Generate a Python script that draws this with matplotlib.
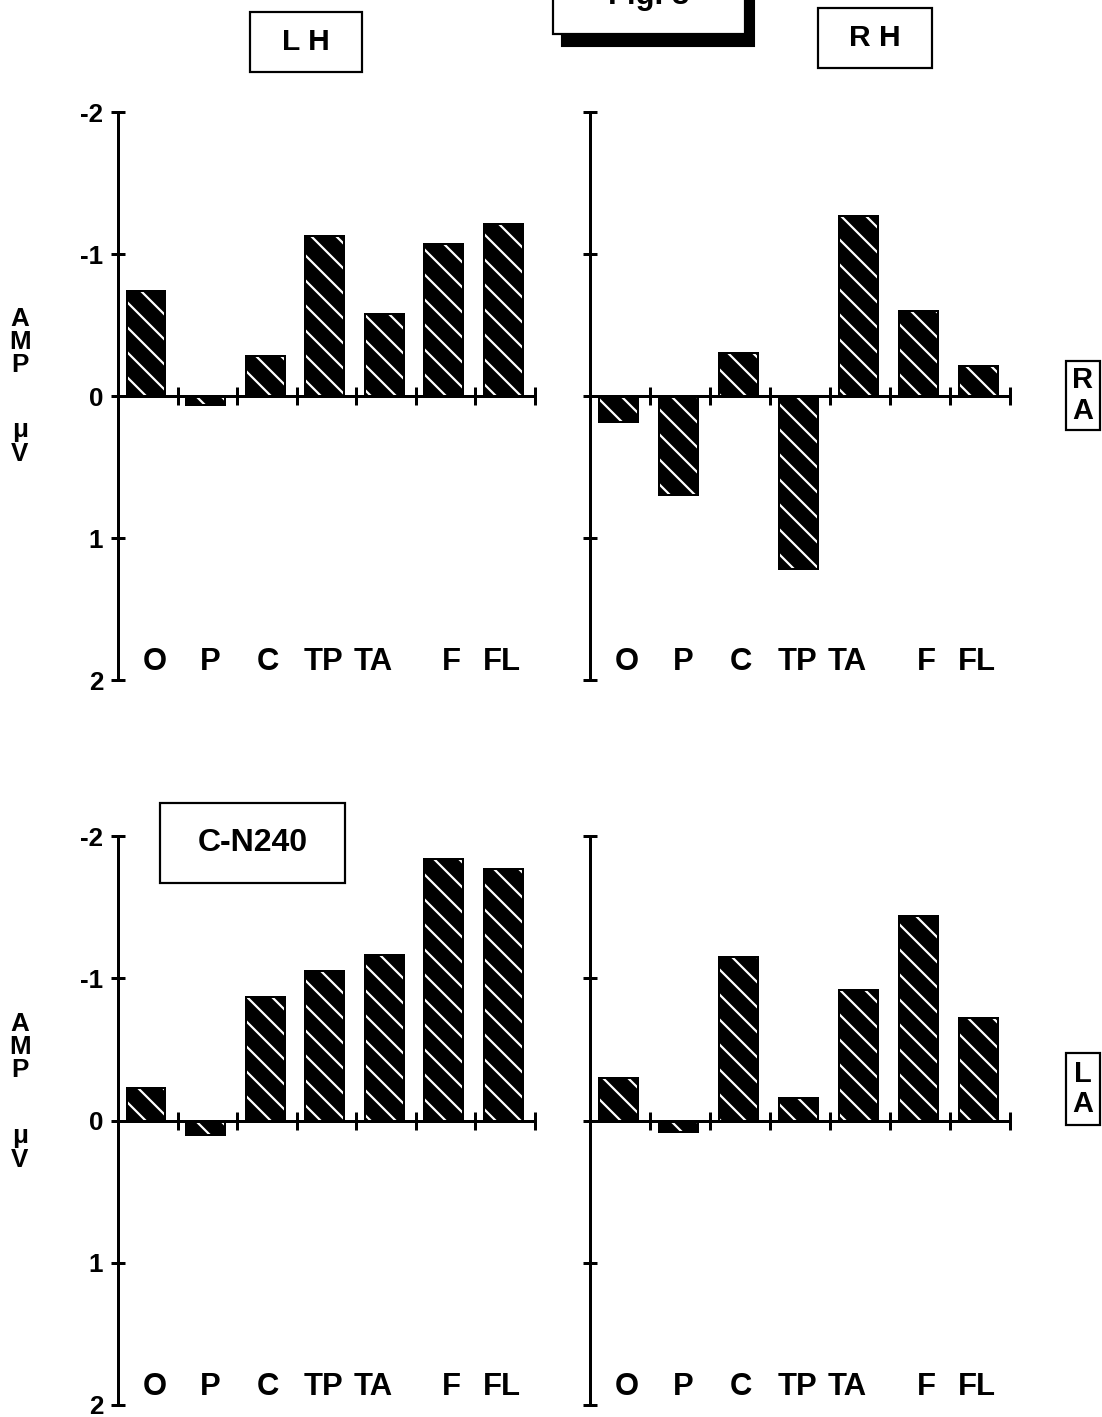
import matplotlib.pyplot as plt
from matplotlib.patches import Rectangle

plt.rcParams['font.family'] = ['Liberation Sans', 'DejaVu Sans']
plt.rcParams['font.weight'] = 'bold'

# electrode sites along the x axis
sites = ["O", "P", "C", "TP", "TA", "F", "FL"]

# mean amplitudes (microvolts, negative plotted upward)
lh_ra = [-0.74, 0.06, -0.28, -1.13, -0.58, -1.07, -1.21]
rh_ra = [0.18, 0.70, -0.30, 1.22, -1.27, -0.60, -0.21]
lh_la = [-0.23, 0.10, -0.87, -1.05, -1.16, -1.84, -1.77]
rh_la = [-0.30, 0.08, -1.15, -0.16, -0.92, -1.44, -0.72]

yticks = [-2, -1, 0, 1, 2]
ytick_labels = ["-2", "-1", "0", "1", "2"]

W, H = 1102, 1417
DPI = 150
S = 72 / DPI  # pixels -> points

plt.rcParams['hatch.linewidth'] = 2.2 * S

fig = plt.figure(figsize=(W / DPI, H / DPI), dpi=DPI)


def px_axes(x0, y0, x1, y1):
    return fig.add_axes([x0 / W, 1 - y1 / H, (x1 - x0) / W, (y1 - y0) / H])


def panel(ax, vals, show_labels):
    n = len(vals)
    xs = [i + 0.47 for i in range(n)]
    ax.bar(xs, vals, width=0.65, color="black", edgecolor="white",
           hatch="\\\\", linewidth=0.01, zorder=2)
    ax.bar(xs, vals, width=0.65, fill=False, edgecolor="black",
           linewidth=2 * S, zorder=3)
    ax.set_xlim(0, n)
    ax.set_ylim(2, -2)
    for s in ["top", "right"]:
        ax.spines[s].set_visible(False)
    ax.spines["bottom"].set_position(("data", 0))
    ax.spines["bottom"].set_linewidth(3 * S)
    ax.spines["left"].set_linewidth(3 * S)
    ax.set_xticks(range(n + 1))
    ax.set_xticklabels([])
    ax.tick_params(axis="x", direction="inout", length=18 * S, width=3 * S)
    ax.set_yticks(yticks)
    ax.tick_params(axis="y", direction="inout", length=14 * S, width=3 * S,
                   pad=8 * S)
    if show_labels:
        ax.set_yticklabels(ytick_labels, fontsize=26 * S, fontweight="bold")
    else:
        ax.set_yticklabels([])
    label_x = [0.62, 1.55, 2.52, 3.45, 4.28, 5.6, 6.45]
    for lx, s in zip(label_x, sites):
        ax.text(lx, 1.87, s, ha="center", va="center", fontsize=31 * S,
                fontweight="bold")
    ax.patch.set_visible(False)


ax1 = px_axes(118, 112, 535, 680)
ax2 = px_axes(590, 112, 1010, 680)
ax3 = px_axes(118, 836, 535, 1405)
ax4 = px_axes(590, 836, 1010, 1405)
panel(ax1, lh_ra, True)
panel(ax2, rh_ra, False)
panel(ax3, lh_la, True)
panel(ax4, rh_la, False)


def boxed(x0, y0, x1, y1, text, size, lw=2.2):
    fig.add_artist(Rectangle((x0 / W, 1 - y1 / H), (x1 - x0) / W, (y1 - y0) / H,
                             transform=fig.transFigure, facecolor="white",
                             edgecolor="black", linewidth=lw * S, zorder=5))
    fig.text((x0 + x1) / 2 / W, 1 - (y0 + y1) / 2 / H, text, ha="center",
             va="center", fontsize=size * S, fontweight="bold", zorder=6,
             linespacing=1.1)


boxed(250, 12, 362, 72, "L H", 30)
boxed(818, 8, 932, 68, "R H", 30)
boxed(160, 803, 345, 883, "C-N240", 32)
boxed(1066, 361, 1100, 430, "R\nA", 29)
boxed(1066, 1053, 1100, 1125, "L\nA", 29)

# heading box with drop shadow, cut at the top edge
fig.add_artist(Rectangle((562 / W, 1 - 46 / H), 192 / W, 60 / H,
                         transform=fig.transFigure, facecolor="black",
                         edgecolor="black", zorder=4))
fig.add_artist(Rectangle((553 / W, 1 - 34 / H), 192 / W, 60 / H,
                         transform=fig.transFigure, facecolor="white",
                         edgecolor="black", linewidth=2.2 * S, zorder=5))
fig.text(649 / W, 1 - 11 / H, "Fig. 8", ha="center", va="bottom",
         fontsize=31 * S, fontweight="bold", zorder=6)

# vertical axis caption
for y_amp, y_unit in ((342, 442), (1047, 1148)):
    fig.text(20 / W, 1 - y_amp / H, "A\nM\nP", ha="center", va="center",
             fontsize=26 * S, fontweight="bold", linespacing=0.95)
    fig.text(20 / W, 1 - y_unit / H, "\u03bc\nV", ha="center", va="center",
             fontsize=26 * S, fontweight="bold", linespacing=0.95)

fig.savefig("out.png", dpi=DPI, facecolor="white")
